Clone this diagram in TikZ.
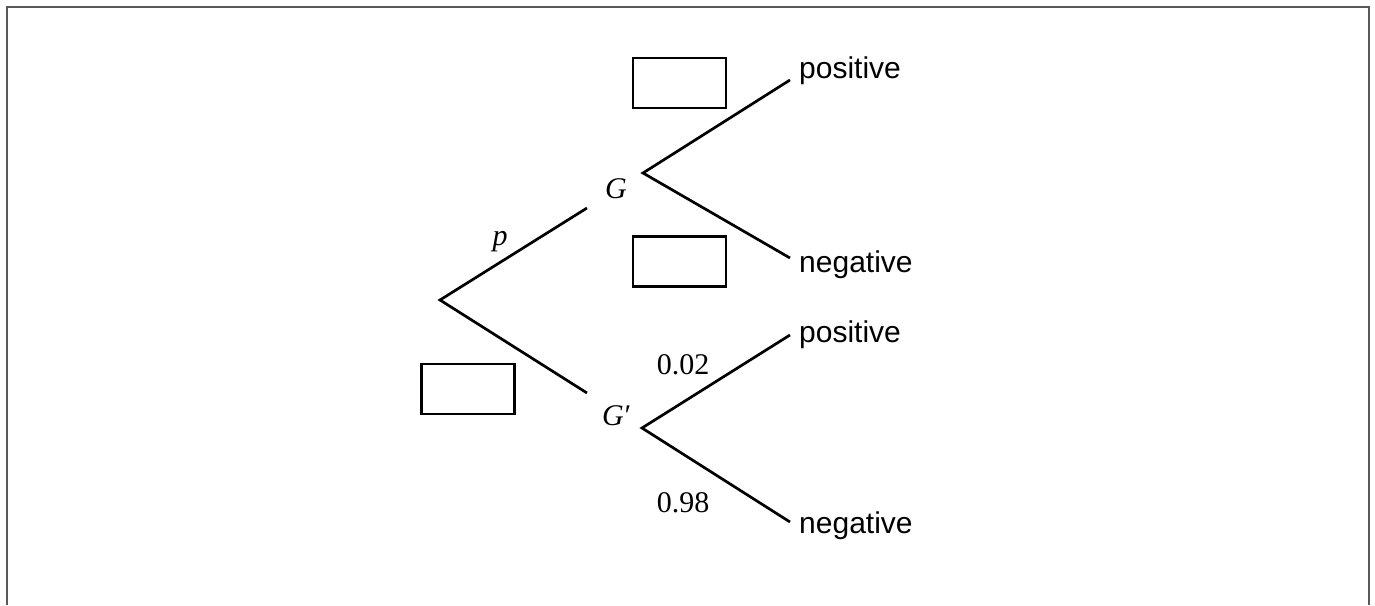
\documentclass[tikz,border=0pt]{standalone}
\usepackage{fontspec}
\setmainfont{Liberation Serif}
\newfontfamily\arialfont{Liberation Sans}
\begin{document}
\begin{tikzpicture}[x=1pt,y=-1pt,
  branch/.style={line width=2.7pt,line cap=butt,line join=miter},
  blank/.style={draw,line width=2.7pt,minimum width=93pt,minimum height=50pt,inner sep=0pt},
  lbl/.style={inner sep=0pt,anchor=base,font=\fontsize{30}{36}\selectfont},
  word/.style={inner sep=0pt,anchor=base west,font=\arialfont\fontsize{30}{36}\selectfont},
  frame/.style={draw=black!65,line width=2pt}]
\useasboundingbox (0,0) rectangle (1375,605);
\draw[frame] (6.5,605) -- (6.5,6.5) -- (1368.5,6.5) -- (1368.5,605);
% branch points
\coordinate (root) at (440,300);
\coordinate (gin) at (587,208);
\coordinate (gpin) at (587,393);
\coordinate (gv) at (643,173);
\coordinate (gpv) at (642,428);
\coordinate (e1) at (790,80);
\coordinate (e2) at (790,258);
\coordinate (e3) at (790,335);
\coordinate (e4) at (790,522);
% labels
\node[lbl] (G) at (616,198) {\textit{G}};
\node[lbl] (Gp) at (616,425) {\textit{G}\kern-1pt\textit{′}};
\node[lbl] (p) at (500,245) {\textit{p}};
\node[lbl] (q1) at (683,374) {0.02};
\node[lbl] (q2) at (683,512) {0.98};
\node[word] (pos1) at (799,78) {positive};
\node[word] (neg1) at (799,272) {negative};
\node[word] (pos2) at (799,342) {positive};
\node[word] (neg2) at (799,533) {negative};
% boxes
\node[blank] (b1) at (679.5,83) {};
\node[blank] (b2) at (679.5,261.5) {};
\node[blank] (b3) at (468,389) {};
% branches
\draw[branch] (gin) -- (root) -- (gpin);
\draw[branch] (e1) -- (gv) -- (e2);
\draw[branch] (e3) -- (gpv) -- (e4);
\end{tikzpicture}
\end{document}
